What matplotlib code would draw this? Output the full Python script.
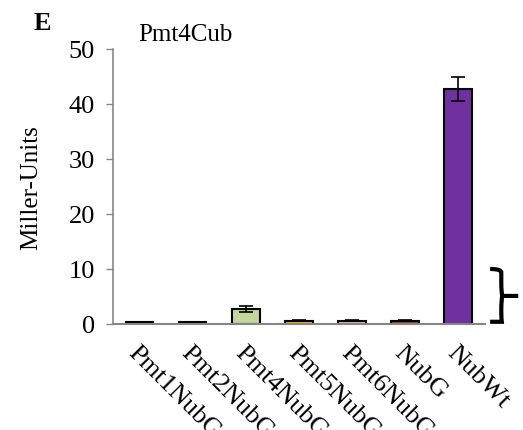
import matplotlib.pyplot as plt
from matplotlib.path import Path
from matplotlib.patches import PathPatch

plt.rcParams['font.family'] = ['Liberation Serif', 'DejaVu Serif']

strains = ['Pmt1NubG', 'Pmt2NubG', 'Pmt4NubG', 'Pmt5NubG', 'Pmt6NubG', 'NubG', 'NubWt']
values = [0.3, 0.3, 2.7, 0.6, 0.6, 0.6, 42.7]
errors = [0.1, 0.1, 0.6, 0.15, 0.15, 0.15, 2.2]
colors = ['#1a1a1a', '#1a1a1a', '#c3d69b', '#ffc000', '#e6b9b8', '#984807', '#7030a0']
yticks = [0, 10, 20, 30, 40, 50]

fig = plt.figure(figsize=(5.23, 4.31), dpi=100)
ax = fig.add_axes([0.216, 0.246, 0.711, 0.638])

x = list(range(len(strains)))
ax.bar(x, values, width=0.52, color=colors, edgecolor='black', linewidth=1.5,
       yerr=errors, error_kw=dict(ecolor='black', elinewidth=1.2, capsize=5, capthick=1.2))

ax.set_xlim(-0.5, 6.5)
ax.set_ylim(0, 50)
ax.set_yticks(yticks)
ax.tick_params(axis='y', labelsize=19, color='#868686', length=5, width=1, pad=8)
ax.tick_params(axis='x', length=0, pad=12)
ax.set_xticks(x)
ax.set_xticklabels(strains, rotation=-45, ha='left', va='top',
                   rotation_mode='anchor', fontsize=19)
ax.spines['top'].set_visible(False)
ax.spines['right'].set_visible(False)
ax.spines['left'].set_color('#868686')
ax.spines['bottom'].set_color('#868686')
ax.spines['left'].set_linewidth(1.2)
ax.spines['bottom'].set_linewidth(1.5)
ax.set_ylabel('Miller-Units', fontsize=18)
ax.yaxis.set_label_coords(-0.19, 0.5)

# brace to the right of the NubWt bar
verts = [(6.6, 10.0), (6.82, 10.0), (6.81, 9.3), (6.81, 7.5),
         (6.81, 5.6), (6.83, 5.1), (7.13, 5.1),
         (6.83, 5.1), (6.81, 4.6), (6.81, 2.5),
         (6.81, 0.7), (6.82, 0.4), (6.6, 0.4)]
codes = [Path.MOVETO, Path.CURVE3, Path.CURVE3, Path.LINETO,
         Path.CURVE3, Path.CURVE3, Path.LINETO,
         Path.MOVETO, Path.CURVE3, Path.LINETO,
         Path.CURVE3, Path.CURVE3, Path.LINETO]
ax.add_patch(PathPatch(Path(verts, codes), fill=False, lw=3, color='black', clip_on=False))

fig.text(0.264, 0.905, 'Pmt4Cub', fontsize=18)
fig.text(0.065, 0.93, 'E', fontsize=19, fontweight='bold')

fig.savefig('out.png', dpi=100)
